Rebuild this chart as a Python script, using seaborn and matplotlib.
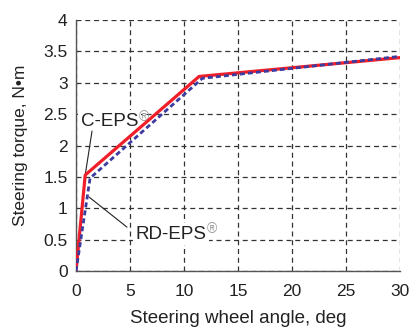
import matplotlib
matplotlib.use("Agg")
import matplotlib.pyplot as plt
import seaborn as sns
import pandas as pd

sns.set_theme(style="white")
plt.rcParams['font.family'] = ['Liberation Sans', 'DejaVu Sans']

c_eps_x = [0, 0.85, 11.4, 30]
c_eps_y = [0, 1.53, 3.10, 3.40]
rd_eps_x = [0, 1.3, 11.7, 30]
rd_eps_y = [0, 1.48, 3.07, 3.42]
x_ticks = [0, 5, 10, 15, 20, 25, 30]
y_ticks = [0, 0.5, 1, 1.5, 2, 2.5, 3, 3.5, 4]
y_tick_labels = ["0", "0.5", "1", "1.5", "2", "2.5", "3", "3.5", "4"]

df_c = pd.DataFrame({"x": c_eps_x, "y": c_eps_y})
df_rd = pd.DataFrame({"x": rd_eps_x, "y": rd_eps_y})

fig = plt.figure(figsize=(4.11, 3.27), dpi=100)
ax = fig.add_axes([0.185, 0.171, 0.788, 0.768])

sns.lineplot(data=df_c, x="x", y="y", ax=ax, color="#f01e28", lw=2.3, sort=False, zorder=3)
sns.lineplot(data=df_rd, x="x", y="y", ax=ax, color="#3c3ca0", lw=2.0, sort=False,
             linestyle=(0, (1.8, 1.1)), zorder=4)

ax.set_xlim(0, 30)
ax.set_ylim(0, 4)
ax.set_xticks(x_ticks)
ax.set_xticklabels([str(v) for v in x_ticks])
ax.set_yticks(y_ticks)
ax.set_yticklabels(y_tick_labels)
ax.grid(True, color="#333333", linestyle=(0, (4, 3)), lw=0.9)
ax.tick_params(axis="x", labelsize=12.5, colors="#222222", direction="in", length=2, width=0.8, pad=9)
ax.tick_params(axis="y", labelsize=12.5, colors="#222222", direction="in", length=0, width=0.8, pad=6)
for s in ["top", "right"]:
    ax.spines[s].set_visible(False)
for s in ["left", "bottom"]:
    ax.spines[s].set_color("#555555")
    ax.spines[s].set_linewidth(1.0)
ax.set_xlabel("Steering wheel angle, deg", fontsize=13.5, color="#222222", labelpad=8)
ax.set_ylabel("Steering torque, N\u2022m", fontsize=12.5, color="#222222", labelpad=11)

box = dict(boxstyle="square,pad=0.15", fc="white", ec="none")
t1 = ax.text(0.42, 2.38, "C-EPS", fontsize=13.5, color="#222222", ha="left", va="center",
             bbox=box, zorder=2)
ax.annotate("®", xy=(1.0, 1.0), xycoords=t1, xytext=(0.5, 2.5), textcoords="offset points",
            fontsize=10, color="#999999", ha="left", va="top", zorder=2)
t2 = ax.text(5.5, 0.59, "RD-EPS", fontsize=13.5, color="#222222", ha="left", va="center",
             bbox=box, zorder=2)
ax.annotate("®", xy=(1.0, 1.0), xycoords=t2, xytext=(0.5, 2.5), textcoords="offset points",
            fontsize=10, color="#999999", ha="left", va="top", zorder=2)

ax.annotate("", xy=(0.85, 1.53), xytext=(1.48, 2.23),
            arrowprops=dict(arrowstyle="-", color="#222222", lw=0.8, shrinkA=0, shrinkB=0), zorder=2)
ax.annotate("", xy=(1.2, 1.18), xytext=(4.72, 0.70),
            arrowprops=dict(arrowstyle="-", color="#222222", lw=0.8, shrinkA=0, shrinkB=0), zorder=2)

fig.savefig("out.png", dpi=100)
